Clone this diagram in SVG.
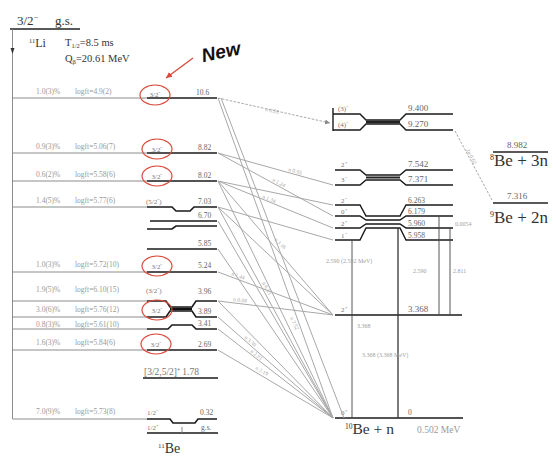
<svg xmlns="http://www.w3.org/2000/svg" width="559" height="457" viewBox="0 0 559 457">
<defs>
<marker id="ag" markerWidth="6" markerHeight="6" refX="5" refY="3" orient="auto" markerUnits="userSpaceOnUse"><path d="M0,0.5 L5,3 L0,5.5 Z" fill="#888"/></marker>
<marker id="ar" markerWidth="8" markerHeight="8" refX="6" refY="4" orient="auto" markerUnits="userSpaceOnUse"><path d="M0,1 L6,4 L0,7 Z" fill="#d9493a"/></marker>
</defs>
<style>
.lv{stroke:#1a1a1a;stroke-width:1.6;fill:none}
.lb{stroke:#1a1a1a;stroke-width:1.4;fill:none}
.th{stroke:#808080;stroke-width:0.9;fill:none}
.nl{stroke:#a8a8a8;stroke-width:1;fill:none}
.vg{stroke:#444;stroke-width:0.9;fill:none}
.ci{stroke:#d9493a;stroke-width:1.2;fill:none}
.sm{font-family:"Liberation Serif",serif;font-size:7.5px;fill:#9a9a9a}
.nt{font-family:"Liberation Serif",serif;font-size:5.5px;fill:#a5a5a5}
.nv{font-family:"Liberation Serif",serif;font-size:6px;fill:#a0a0a0}
.sp{font-family:"Liberation Serif",serif;font-size:7px;fill:#777}
.en{font-family:"Liberation Serif",serif;font-size:7.5px;fill:#666}
.eb{font-family:"Liberation Serif",serif;font-size:9px;fill:#666}
.hd{font-family:"Liberation Serif",serif;fill:#333}
</style>
<rect width="559" height="457" fill="#fff"/>

<g id="li11">
<text class="hd" x="17" y="25" font-size="13">3/2<tspan font-size="8" dy="-5">−</tspan></text>
<text class="hd" x="55" y="25" font-size="13">g.s.</text>
<path d="M10,29H80" stroke="#222" stroke-width="1.3"/>
<path class="th" d="M12.5,29V419"/>
<path d="M10.5,48H14.5L12.5,54Z" fill="#333"/>
<text class="hd" x="29" y="47" font-size="12"><tspan font-size="6.5" dy="-4.5">11</tspan><tspan dy="4.5">Li</tspan></text>
<text class="hd" x="65" y="46" font-size="10.5">T<tspan font-size="6.5" dy="2">1/2</tspan><tspan dy="-2">=8.5 ms</tspan></text>
<text class="hd" x="65" y="62" font-size="10.5">Q<tspan font-size="6.5" dy="2">β</tspan><tspan dy="-2">=20.61 MeV</tspan></text>
</g>

<g id="new-mark">
<text x="201" y="58" transform="rotate(-12 222 50)" font-family="Liberation Sans,sans-serif" font-weight="bold" font-style="italic" font-size="19" fill="#111">New</text>
<path d="M193,58L166,78" stroke="#d9493a" stroke-width="1.3" marker-end="url(#ar)"/>
</g>

<g id="be11-10.6">
<path class="th" d="M12.5,98H147"/><path class="lv" d="M147,98H217"/>
<text class="sm" x="36" y="94">1.0(3)%</text><text class="sm" x="75" y="94">logft=4.9(2)</text>
<text class="sp" x="155" y="97" text-anchor="middle">3/2⁻</text><ellipse class="ci" cx="155" cy="95" rx="15" ry="10"/>
<text class="en" x="196" y="95">10.6</text>
</g>
<g id="be11-8.82">
<path class="th" d="M12.5,153H147"/><path class="lv" d="M147,153H217"/>
<text class="sm" x="36" y="149">0.9(3)%</text><text class="sm" x="75" y="149">logft=5.06(7)</text>
<text class="sp" x="157" y="152" text-anchor="middle">3/2⁻</text><ellipse class="ci" cx="157" cy="149" rx="15" ry="10"/>
<text class="en" x="198" y="150">8.82</text>
</g>
<g id="be11-8.02">
<path class="th" d="M12.5,181H147"/><path class="lv" d="M147,181H217"/>
<text class="sm" x="36" y="177">0.6(2)%</text><text class="sm" x="75" y="177">logft=5.58(6)</text>
<text class="sp" x="157" y="179" text-anchor="middle">3/2⁻</text><ellipse class="ci" cx="157" cy="176" rx="15" ry="10"/>
<text class="en" x="198" y="178">8.02</text>
</g>
<g id="be11-7.03">
<path class="th" d="M12.5,207H147"/><path class="lv" d="M147,207H172L176,211H190L194,207H217"/>
<text class="sm" x="36" y="203">1.4(5)%</text><text class="sm" x="75" y="203">logft=5.77(6)</text>
<text class="sp" x="146" y="204">(5/2⁻)</text>
<text class="en" x="198" y="204">7.03</text>
</g>
<g id="be11-6.70">
<path class="lv" d="M150,221H217"/>
<text class="en" x="198" y="218">6.70</text>
<path class="lv" d="M147,229H172L176,226H217"/>
</g>
<g id="be11-5.85">
<path class="lv" d="M147,249H217"/>
<text class="en" x="198" y="246">5.85</text>
</g>
<g id="be11-5.24">
<path class="th" d="M12.5,272H147"/><path class="lv" d="M147,272H217"/>
<text class="sm" x="36" y="267">1.0(3)%</text><text class="sm" x="75" y="267">logft=5.72(10)</text>
<text class="sp" x="157" y="269" text-anchor="middle">3/2⁻</text><ellipse class="ci" cx="157" cy="266" rx="15" ry="10"/>
<text class="en" x="198" y="268">5.24</text>
</g>
<g id="be11-3.96-3.89">
<path class="th" d="M12.5,301H147"/><path class="th" d="M12.5,317H147"/>
<path class="lv" d="M147,301H166L170,307H192L196,301H217"/>
<path class="lv" d="M147,317H166L170,311H192L196,317H217"/>
<path d="M170,309H192" stroke="#111" stroke-width="2.5"/>
<text class="sm" x="36" y="292">1.9(5)%</text><text class="sm" x="75" y="292">logft=6.10(15)</text>
<text class="sm" x="36" y="312">3.0(6)%</text><text class="sm" x="75" y="312">logft=5.76(12)</text>
<text class="sp" x="146" y="293">(3/2⁻)</text>
<text class="sp" x="157" y="313" text-anchor="middle">3/2⁻</text><ellipse class="ci" cx="157" cy="310" rx="15" ry="10"/>
<text class="en" x="198" y="294">3.96</text>
<text class="en" x="198" y="314">3.89</text>
</g>
<g id="be11-3.41">
<path class="th" d="M12.5,329H147"/><path class="lv" d="M147,329H168L172,325H192L196,329H217"/>
<text class="sm" x="36" y="327">0.8(3)%</text><text class="sm" x="75" y="327">logft=5.61(10)</text>
<text class="en" x="198" y="326">3.41</text>
</g>
<g id="be11-2.69">
<path class="th" d="M12.5,350H147"/><path class="lv" d="M147,350H217"/>
<text class="sm" x="36" y="345">1.6(3)%</text><text class="sm" x="75" y="345">logft=5.84(6)</text>
<text class="sp" x="156" y="347" text-anchor="middle">3/2⁻</text><ellipse class="ci" cx="156" cy="344" rx="15" ry="10"/>
<text class="en" x="198" y="347">2.69</text>
</g>
<g id="be11-1.78">
<path class="lv" d="M143,378H218"/>
<text class="sp" x="144" y="375" style="font-size:9.5px">[3/2,5/2]⁺ 1.78</text>
</g>
<g id="be11-0.32">
<path class="th" d="M12.5,419H147"/><path class="lv" d="M147,419H170L173,423H195L198,419H217"/>
<text class="sm" x="36" y="414">7.0(9)%</text><text class="sm" x="75" y="414">logft=5.73(8)</text>
<text class="sp" x="147" y="415">1/2⁻</text><text class="en" x="200" y="415">0.32</text>
</g>
<g id="be11-gs">
<path class="lv" d="M147,433H218"/><path class="th" d="M182,427V433"/>
<text class="sp" x="147" y="430">1/2⁺</text><text class="en" x="201" y="430">g.s.</text>
<text class="hd" x="158" y="453" font-size="14"><tspan font-size="7" dy="-5">11</tspan><tspan dy="5">Be</tspan></text>
</g>

<g id="be10-9.4">
<path class="lb" d="M333,108V131"/>
<path class="lb" d="M333,114H360L366,120H400L406,114H453"/>
<path class="lb" d="M333,130H360L366,124H400L406,130H453"/>
<path d="M366,122H400" stroke="#222" stroke-width="2.5"/>
<text class="sp" x="338" y="111">(3)⁻</text><text class="sp" x="338" y="127">(4)⁻</text>
<text class="eb" x="408" y="111">9.400</text><text class="eb" x="408" y="127">9.270</text>
</g>
<g id="be10-7.5">
<path class="lb" d="M335,170H360L366,175H400L406,170H453"/>
<path class="lb" d="M335,185H360L366,180H400L406,185H453"/>
<path d="M366,177.5H400" stroke="#222" stroke-width="2"/>
<text class="sp" x="341" y="167">2⁺</text><text class="sp" x="341" y="182">3⁻</text>
<text class="eb" x="408" y="167">7.542</text><text class="eb" x="408" y="182">7.371</text>
</g>
<g id="be10-6">
<path class="lb" d="M335,205H360L366,216H400L406,205H453"/>
<path class="lb" d="M335,216H360L366,220H400L406,216H453"/>
<path class="lb" d="M335,228H360L366,224H400L406,228H453"/>
<path class="lb" d="M335,240H360L366,228H400L406,240H453"/>
<text class="sp" x="341" y="203">2⁻</text><text class="sp" x="341" y="214">0⁺</text>
<text class="sp" x="341" y="226">2⁺</text><text class="sp" x="341" y="238">1⁻</text>
<text class="en" x="408" y="203">6.263</text><text class="en" x="408" y="214">6.179</text>
<text class="en" x="408" y="226">5.960</text><text class="en" x="408" y="238">5.958</text>
</g>
<g id="be10-3.368">
<path class="lv" d="M335,315H462"/>
<text class="sp" x="341" y="312">2⁺</text><text class="eb" x="408" y="312">3.368</text>
</g>
<g id="be10-gs">
<path class="lv" d="M335,418H463"/>
<text class="sp" x="341" y="415">0⁺</text><text class="en" x="408" y="415">0</text>
<text class="hd" x="345" y="434" font-size="15.5"><tspan font-size="7.5" dy="-5.5">10</tspan><tspan dy="5.5">Be + n</tspan></text>
<text class="sm" x="417" y="433" style="font-size:9.5px">0.502 MeV</text>
</g>
<g id="be8-3n">
<path d="M493,152H548" stroke="#222" stroke-width="1.3"/>
<text class="eb" x="507" y="148">8.982</text>
<text class="hd" x="490" y="166" font-size="17"><tspan font-size="8" dy="-6">8</tspan><tspan dy="6">Be + 3n</tspan></text>
</g>
<g id="be9-2n">
<path d="M493,203H548" stroke="#222" stroke-width="1.3"/>
<text class="eb" x="507" y="199">7.316</text>
<text class="hd" x="490" y="223" font-size="17"><tspan font-size="8" dy="-6">9</tspan><tspan dy="6">Be + 2n</tspan></text>
</g>

<g id="connectors">
<path class="nl" d="M218,98L330,123" stroke-dasharray="2.5,1.5" marker-end="url(#ag)"/>
<path class="nl" d="M218,98L333,418"/>
<path class="nl" d="M221,98L344,418"/>
<path class="nl" d="M218,153L333,185"/>
<path class="nl" d="M218,153L333,216"/>
<path class="nl" d="M218,181L333,205"/>
<path class="nl" d="M218,181L333,228"/>
<path class="nl" d="M218,181L333,315"/>
<path class="nl" d="M218,181L333,418"/>
<path class="nl" d="M218,207L333,240"/>
<path class="nl" d="M218,207L333,315"/>
<path class="nl" d="M218,207L333,418"/>
<path class="nl" d="M218,221L333,418"/>
<path class="nl" d="M218,249L333,418"/>
<path class="nl" d="M218,272L333,315"/>
<path class="nl" d="M218,301L333,315"/>
<path class="nl" d="M218,301L333,418"/>
<path class="nl" d="M218,317L333,418"/>
<path class="nl" d="M218,329L333,418"/>
<path class="nl" d="M218,350L333,418"/>
<path class="nl" d="M455,131L492,200" stroke-dasharray="2.5,1.5"/>
<path class="vg" d="M352,240V418"/>
<path d="M398,228V418" stroke="#333" stroke-width="1.3"/>
<path class="vg" d="M439,216V315"/>
<path class="vg" d="M450,228V315"/>
<text class="nt" x="265" y="111" transform="rotate(13 265 111)">n 0.55</text>
<text class="nt" x="288" y="171" transform="rotate(15.6 288 171)">n 0.93</text>
<text class="nt" x="272" y="181" transform="rotate(28.7 272 181)">n 1.24</text>
<text class="nt" x="262" y="198" transform="rotate(22.2 262 198)">n 1.34</text>
<text class="nt" x="231" y="275" transform="rotate(20.5 231 275)">n 1.44</text>
<text class="nt" x="233" y="301" transform="rotate(6.9 233 301)">n 0.08</text>
<text class="nt" x="244" y="338" transform="rotate(41.3 244 338)">n 3.39</text>
<text class="nt" x="250" y="352" transform="rotate(37.7 250 352)">n 2.91</text>
<text class="nt" x="255" y="369" transform="rotate(30.6 255 369)">n 2.19</text>
<text class="nt" x="262" y="283" transform="rotate(61.4 262 283)">n 6.53</text>
<text class="nt" x="290" y="318" transform="rotate(64.1 290 318)">n 7.52</text>
<text class="nt" x="274" y="240" transform="rotate(43.2 274 240)">n 3.16</text>
<text class="nt" x="466" y="150" transform="rotate(62 466 150)">2n 0.62</text>
<text class="nv" x="326" y="263">2.590 (2.592 MeV)</text>
<text class="nv" x="413" y="273">2.590</text>
<text class="nv" x="453" y="273">2.811</text>
<text class="nv" x="455" y="226">0.0054</text>
<text class="nv" x="357" y="328">3.368</text>
<text class="nv" x="362" y="357">3.368 (3.368 MeV)</text>
</g>
</svg>
